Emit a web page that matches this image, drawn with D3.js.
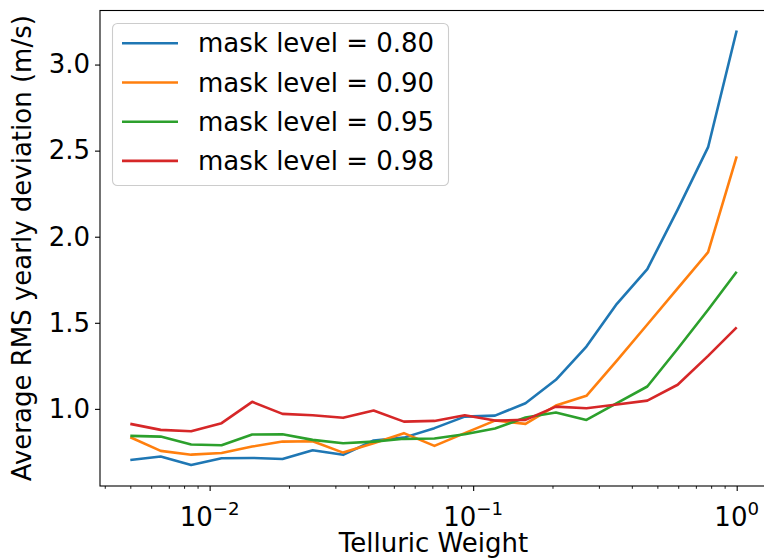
<!DOCTYPE html>
<html>
<head>
<meta charset="utf-8">
<script src="https://cdn.jsdelivr.net/npm/d3@7"></script>
<style>
  body { margin: 0; background: #fff; }
  svg { font-family: "DejaVu Sans", sans-serif; }
</style>
</head>
<body>
<div id="chart"></div>
<script>
// telluric weights (x)
const weights = [0.005, 0.00652, 0.00851, 0.0111, 0.0145, 0.0189, 0.0246, 0.0321, 0.0419, 0.0546,
  0.0713, 0.0929, 0.121, 0.158, 0.206, 0.269, 0.351, 0.458, 0.597, 0.779, 1.0];

const mask080 = [0.703, 0.723, 0.674, 0.713, 0.715, 0.709, 0.760, 0.733, 0.816, 0.833,
  0.888, 0.955, 0.961, 1.033, 1.169, 1.362, 1.61, 1.812, 2.157, 2.52, 3.198];
const mask090 = [0.835, 0.756, 0.734, 0.744, 0.781, 0.810, 0.812, 0.746, 0.800, 0.859,
  0.785, 0.859, 0.932, 0.913, 1.019, 1.076, 1.28, 1.49, 1.70, 1.91, 2.467];
const mask095 = [0.843, 0.839, 0.793, 0.789, 0.851, 0.853, 0.820, 0.800, 0.810, 0.826,
  0.828, 0.853, 0.886, 0.950, 0.979, 0.936, 1.033, 1.13, 1.349, 1.576, 1.797];
const mask098 = [0.913, 0.878, 0.870, 0.917, 1.041, 0.971, 0.963, 0.948, 0.990, 0.926,
  0.930, 0.963, 0.932, 0.936, 1.013, 1.004, 1.025, 1.048, 1.14, 1.308, 1.473];

const seriesNames = ["mask level = 0.80", "mask level = 0.90", "mask level = 0.95", "mask level = 0.98"];
const seriesValues = [mask080, mask090, mask095, mask098];
const colors = ["#1f77b4", "#ff7f0e", "#2ca02c", "#d62728"];

const yTicks = [1.0, 1.5, 2.0, 2.5, 3.0];
const xMajor = [0.01, 0.1, 1];
const xExponents = ["\u22122", "\u22121", "0"];

// layout
const width = 764, height = 559;
const margin = { top: 10.5, right: -3, bottom: 73, left: 100 };
const fs = 26;

const svg = d3.select("#chart").append("svg")
  .attr("width", width).attr("height", height);

const x = d3.scaleLog()
  .domain([Math.pow(10, -2.416), Math.pow(10, 0.115)])
  .range([margin.left, width - margin.right]);

const y = d3.scaleLinear()
  .domain([0.552, 3.314])
  .range([height - margin.bottom, margin.top]);

// lines
const line = d3.line()
  .x((d, i) => x(weights[i]))
  .y(d => y(d));

svg.append("g").selectAll("path")
  .data(seriesValues)
  .enter().append("path")
  .attr("d", d => line(d))
  .attr("fill", "none")
  .attr("stroke", (d, i) => colors[i])
  .attr("stroke-width", 2.6)
  .attr("stroke-linejoin", "round");

// axes
const minor = x.ticks().filter(t => xMajor.indexOf(t) < 0 && Math.abs(Math.log10(t) - Math.round(Math.log10(t))) > 1e-6);

const xAxisMinor = svg.append("g")
  .attr("transform", "translate(0," + (height - margin.bottom) + ")")
  .call(d3.axisBottom(x).tickValues(minor).tickSize(2.8).tickFormat(""));
xAxisMinor.select(".domain").remove();

const xAxis = svg.append("g")
  .attr("transform", "translate(0," + (height - margin.bottom) + ")")
  .call(d3.axisBottom(x).tickValues(xMajor).tickSize(5).tickFormat(""));
xAxis.select(".domain").remove();
xAxis.selectAll(".tick line").attr("stroke-width", 1.1);
xAxisMinor.selectAll(".tick line").attr("stroke-width", 0.9);

// x tick labels with superscripts
const xLab = svg.append("g").selectAll("text")
  .data(xMajor)
  .enter().append("text")
  .attr("x", d => x(d))
  .attr("y", 526)
  .attr("text-anchor", "middle")
  .attr("font-size", fs)
  .attr("fill", "#000");
xLab.append("tspan").text("10");
xLab.append("tspan")
  .attr("dy", -11)
  .attr("font-size", fs * 0.7)
  .text((d, i) => xExponents[i]);

const yAxis = svg.append("g")
  .attr("transform", "translate(" + margin.left + ",0)")
  .call(d3.axisLeft(y).tickValues(yTicks).tickSize(5).tickPadding(5).tickFormat(d3.format(".1f")));
yAxis.select(".domain").remove();
yAxis.selectAll(".tick line").attr("stroke-width", 1.1);
yAxis.selectAll("text")
  .attr("font-size", fs)
  .attr("font-family", "DejaVu Sans")
  .attr("fill", "#000");

// frame
svg.append("rect")
  .attr("x", margin.left).attr("y", margin.top)
  .attr("width", width - margin.right - margin.left)
  .attr("height", height - margin.bottom - margin.top)
  .attr("fill", "none")
  .attr("stroke", "#000")
  .attr("stroke-width", 1.1);

// axis titles
svg.append("text")
  .attr("x", (margin.left + width - margin.right) / 2)
  .attr("y", 552)
  .attr("text-anchor", "middle")
  .attr("font-size", fs)
  .text("Telluric Weight");

svg.append("text")
  .attr("transform", "translate(31," + ((margin.top + height - margin.bottom) / 2) + ") rotate(-90)")
  .attr("text-anchor", "middle")
  .attr("font-size", fs)
  .text("Average RMS yearly deviation (m/s)");

// legend
const legend = svg.append("g");
legend.append("rect")
  .attr("x", 112.5).attr("y", 23.5)
  .attr("width", 336).attr("height", 162)
  .attr("rx", 5)
  .attr("fill", "#fff").attr("fill-opacity", 0.8)
  .attr("stroke", "#ccc").attr("stroke-width", 1.1);

const rows = legend.selectAll(".legend-row")
  .data(seriesNames)
  .enter().append("g")
  .attr("class", "legend-row")
  .attr("transform", (d, i) => "translate(0," + (43.3 + i * 39.2) + ")");

rows.append("line")
  .attr("x1", 122).attr("x2", 178)
  .attr("stroke", (d, i) => colors[i])
  .attr("stroke-width", 2.6);

rows.append("text")
  .attr("x", 198)
  .attr("y", 9)
  .attr("font-size", fs)
  .text(d => d);
</script>
</body>
</html>
